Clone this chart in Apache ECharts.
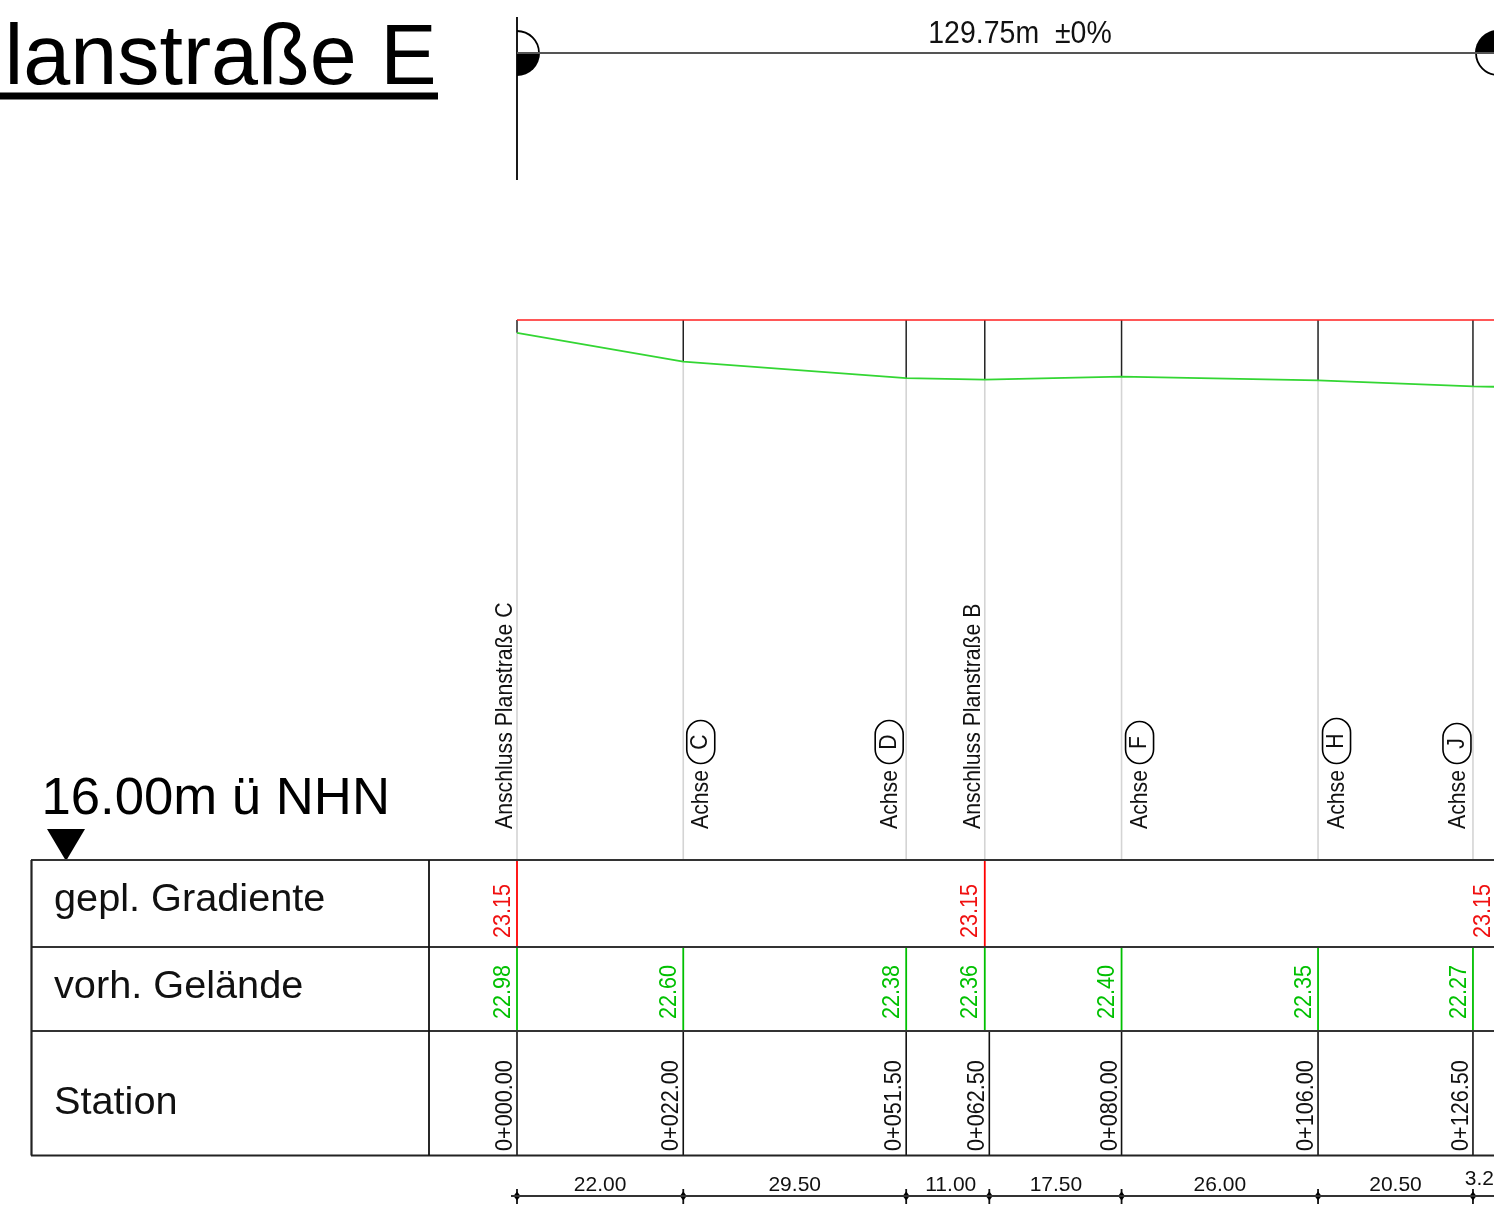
<!DOCTYPE html>
<html><head><meta charset="utf-8">
<style>html,body{margin:0;padding:0;background:#fff;overflow:hidden}#c{width:1494px;height:1214px}</style>
<script src="https://cdn.jsdelivr.net/npm/echarts@6/dist/echarts.min.js"></script>
</head><body><div id="c"></div>
<script>
// ---------- data ----------
const titleText = "lanstraße E";
const datumText = "16.00m ü NHN";
const lengthText = "129.75m  ±0%";
const rowTitles = ["gepl. Gradiente", "vorh. Gelände", "Station"];
const stations = [0, 22, 51.5, 62.5, 80, 106, 126.5, 129.75];
const stationLabels = ["0+000.00","0+022.00","0+051.50","0+062.50","0+080.00","0+106.00","0+126.50"];
const spanLabels = ["22.00","29.50","11.00","17.50","26.00","20.50","3.25"];
const levelStations = [0, 22, 51.5, 61.9, 80, 106, 126.5];
const terrainLevels = [22.98, 22.60, 22.38, 22.36, 22.40, 22.35, 22.27];
const terrainLabels = ["22.98","22.60","22.38","22.36","22.40","22.35","22.27"];
const terrainEnd = [129.75, 22.265];
const gradeStations = [0, 61.9, 129.75];
const gradeLevels = [23.15, 23.15, 23.15];
const gradeLabels = ["23.15","23.15","23.15"];
const markerTexts = ["Anschluss Planstraße C","Achse","Achse","Anschluss Planstraße B","Achse","Achse","Achse"];
const markerLetters = ["","C","D","","F","H","J"];

// ---------- layout ----------
const W = 1494, H = 1214;
const pxPerM = 7.557, originX = 517;
const pxPerHm = 75.5, gradeY = 320, gradeRef = 23.15;
const rows = {top:860, r1:947, r2:1031, bottom:1155.5, left:31, split:429};
const font = '"Liberation Sans", Arial, sans-serif';
const markerDX = [-11.5, 17.5, -17, -11.5, 18, 18.5, -16];
const spanDX = [0,0,3,0.5,0,0,0];
const pillLen = {C:43, D:43, F:42, H:45, J:40};

function vText(str, x, yBottom, size, color, squeeze){
  return {type:'text', x:x, y:yBottom, rotation:Math.PI/2, scaleX:squeeze||1,
    style:{text:str, fill:color, font:size+'px '+font, align:'left', verticalAlign:'middle'}, silent:true};
}
function seg(x1,y1,x2,y2,color,w){
  return {type:'line', shape:{x1:x1,y1:y1,x2:x2,y2:y2}, style:{stroke:color,lineWidth:w||1.5}, silent:true};
}
function rule(x1,y1,x2,y2,color,w){
  return {type:'line', shape:{x1:x1,y1:y1,x2:x2,y2:y2}, style:{stroke:color,lineWidth:w}, silent:true, z:4};
}
function label(str,x,y,size,color,align,squeeze){
  return {type:'text', x:x, y:y, scaleX:squeeze||1, silent:true, z:5,
    style:{text:str, font:size+'px '+font, fill:color, align:align||'left', verticalAlign:'top'}};
}
function custom(name, data, render){
  return {type:'custom', name:name, data:data, renderItem:render, coordinateSystem:'cartesian2d',
    silent:true, z:3, encode:{x:0,y:1}, clip:false, animation:false};
}
const zip = (a,b)=>a.map((v,i)=>[v,b[i],i]);

const chart = echarts.init(document.getElementById('c'), null, {renderer:'canvas', width:W, height:H});
chart.setOption({
  animation:false,
  backgroundColor:'#fff',
  grid:{left:0,right:0,top:0,bottom:0,containLabel:false},
  xAxis:{type:'value', show:false, min:-originX/pxPerM, max:(W-originX)/pxPerM},
  yAxis:{type:'value', show:false, min:gradeRef-(H-gradeY)/pxPerHm, max:gradeRef+gradeY/pxPerHm},
  graphic:{elements:[
    label(titleText,436.5,18,84.5,'#000','right'),
    {type:'rect', shape:{x:0,y:92.5,width:438,height:7}, style:{fill:'#000'}, silent:true},
    rule(517,17,517,180,'#000',1.8),
    rule(517,53,W,53,'#555',1.8),
    {type:'arc', shape:{cx:517,cy:53,r:22,startAngle:-Math.PI/2,endAngle:0}, style:{stroke:'#000',fill:null,lineWidth:1.8}, silent:true},
    {type:'sector', shape:{cx:517,cy:53,r0:0,r:23,startAngle:0,endAngle:Math.PI/2}, style:{fill:'#000'}, silent:true},
    {type:'sector', shape:{cx:1498,cy:53,r0:0,r:23,startAngle:Math.PI,endAngle:Math.PI*1.5}, style:{fill:'#000'}, silent:true},
    {type:'arc', shape:{cx:1498,cy:53,r:22,startAngle:Math.PI/2,endAngle:Math.PI}, style:{stroke:'#000',fill:null,lineWidth:1.8}, silent:true},
    label(lengthText,1020,18,32,'#111','center',0.89),
    label(datumText,41.5,773,52.7,'#000'),
    {type:'polygon', shape:{points:[[47,829],[85,829],[66,861]]}, style:{fill:'#000'}, silent:true},
    label(rowTitles[0],54,880,39.7,'#111'),
    label(rowTitles[1],54,967,39.7,'#111'),
    label(rowTitles[2],54,1083,39.7,'#111'),
    rule(rows.left,rows.top,W,rows.top,'#333',2),
    rule(rows.left,rows.r1,W,rows.r1,'#333',2),
    rule(rows.left,rows.r2,W,rows.r2,'#333',2),
    rule(rows.left,rows.bottom,W,rows.bottom,'#222',2),
    rule(rows.left+0.5,rows.top,rows.left+0.5,rows.bottom,'#222',2.2),
    rule(rows.split,rows.top,rows.split,rows.bottom,'#111',1.8),
    rule(511,1196,W,1196,'#333',2)
  ]},
  series:[
    {type:'line', name:'gepl. Gradiente', data:gradeStations.map((s,i)=>[s,gradeLevels[i]]), showSymbol:false, symbol:'none',
      lineStyle:{color:'#ff2020',width:1.6}, z:4, silent:true},
    {type:'line', name:'vorh. Gelände', data:levelStations.map((s,i)=>[s,terrainLevels[i]]).concat([terrainEnd]), showSymbol:false, symbol:'none',
      lineStyle:{color:'#33d633',width:1.8}, z:4, silent:true},
    custom('risers', zip(levelStations,terrainLevels), (p,api)=>{
      const a=api.coord([api.value(0),gradeRef]), b=api.coord([api.value(0),api.value(1)]);
      return {type:'group', children:[
        seg(a[0],b[1],a[0],rows.top,'#d4d4d4',1.6),
        seg(a[0],a[1],a[0],b[1],'#222',1.5)
      ]};
    }),
    custom('gradeRow', zip(gradeStations,gradeLevels), (p,api)=>{
      const x=api.coord([api.value(0),gradeRef])[0], i=api.value(2);
      return {type:'group', children:[
        seg(x,rows.top,x,rows.r1,'#ff0000',1.8),
        vText(gradeLabels[i],x-14,938,24,'#f01010',0.9)
      ]};
    }),
    custom('terrainRow', zip(levelStations,terrainLevels), (p,api)=>{
      const x=api.coord([api.value(0),gradeRef])[0], i=api.value(2);
      return {type:'group', children:[
        seg(x,rows.r1,x,rows.r2,'#00c000',1.8),
        vText(terrainLabels[i],x-14,1019,24,'#00c000',0.9)
      ]};
    }),
    custom('stationRow', zip(stations.slice(0,7),stationLabels), (p,api)=>{
      const x=api.coord([api.value(0),gradeRef])[0], i=api.value(2);
      return {type:'group', children:[
        seg(x,rows.r2,x,rows.bottom,'#111',1.6),
        vText(stationLabels[i],x-11.5,1151,24,'#111',0.9)
      ]};
    }),
    custom('spans', zip(stations.slice(0,7),spanLabels), (p,api)=>{
      const i=api.value(2), x=api.coord([api.value(0),gradeRef])[0], x2=api.coord([stations[i+1],gradeRef])[0];
      return {type:'group', children:[
        seg(x,1189,x,1204,'#111',1.8),
        {type:'polygon', shape:{points:[[x-3.5,1196],[x,1191.5],[x+3.5,1196],[x,1200.5]]}, style:{fill:'#000'}, silent:true},
        {type:'text', x:(x+x2)/2+spanDX[i], y:i===6?1179:1185, silent:true,
          style:{text:spanLabels[i], font:'21px '+font, fill:'#111', align:'center', verticalAlign:'middle'}}
      ]};
    }),
    custom('markers', zip(levelStations,markerTexts), (p,api)=>{
      const i=api.value(2), x=api.coord([api.value(0),gradeRef])[0]+markerDX[i], L=markerLetters[i];
      const kids=[vText(markerTexts[i],x+(L?1:0),829,24,'#111',0.885)];
      if(L){
        const len=pillLen[L], top=763.5-len, w=28;
        kids.push({type:'rect', shape:{x:x-w/2,y:top,width:w,height:len,r:14}, style:{fill:'#fff',stroke:'#000',lineWidth:1.6}, silent:true});
        kids.push({type:'text', x:x, y:top+len/2, rotation:Math.PI/2, scaleX:0.88,
          style:{text:L, font:'24px '+font, fill:'#111', align:'center', verticalAlign:'middle'}, silent:true});
      }
      return {type:'group', children:kids};
    })
  ]
});
</script></body></html>
